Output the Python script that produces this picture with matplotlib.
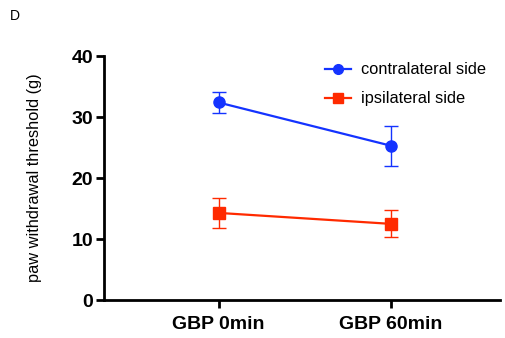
import numpy as np
import matplotlib
matplotlib.use("Agg")
import matplotlib.pyplot as plt
from matplotlib.lines import Line2D

plt.rcParams['font.family'] = ['Liberation Sans', 'DejaVu Sans']

groups = ["GBP 0min", "GBP 60min"]
contra_mean = [32.4, 25.3]
contra_err = [1.7, 3.3]
ipsi_mean = [14.3, 12.5]
ipsi_err = [2.4, 2.2]

blue = "#1433ff"
red = "#ff2a00"

fig = plt.figure(figsize=(5.05, 3.38), dpi=100)
ax = fig.add_axes([0.206, 0.112, 0.784, 0.722])

x = np.arange(len(groups))
ax.errorbar(x, contra_mean, yerr=contra_err, color=blue, marker='o', markersize=8,
            linewidth=1.6, elinewidth=1, capsize=5, capthick=1)
ax.errorbar(x, ipsi_mean, yerr=ipsi_err, color=red, marker='s', markersize=8,
            linewidth=1.6, elinewidth=1, capsize=5, capthick=1)

ax.set_xlim(-0.663, 1.63)
ax.set_ylim(0, 40)
ax.set_yticks([0, 10, 20, 30, 40])
ax.set_xticks(x)
ax.set_xticklabels(groups)
for s in ['top', 'right']:
    ax.spines[s].set_visible(False)
for s in ['left', 'bottom']:
    ax.spines[s].set_linewidth(2)
ax.tick_params(width=2, length=5.5, labelsize=14, pad=2.5)
ax.tick_params(axis='x', pad=6)
for lab in ax.get_yticklabels() + ax.get_xticklabels():
    lab.set_fontweight('bold')

ax.set_ylabel("paw withdrawal threshold (g)", fontsize=11.8, labelpad=21)

handles = [Line2D([], [], color=blue, marker='o', markersize=7, linewidth=1.6),
           Line2D([], [], color=red, marker='s', markersize=7, linewidth=1.6)]
ax.legend(handles, ["contralateral side", "ipsilateral side"], loc='upper left',
          bbox_to_anchor=(0.52, 1.035), frameon=False, fontsize=11.8,
          handlelength=1.6, labelspacing=0.85, handletextpad=0.6)

fig.text(0.02, 0.94, "D", fontsize=10)

fig.savefig("out.png", dpi=100)
